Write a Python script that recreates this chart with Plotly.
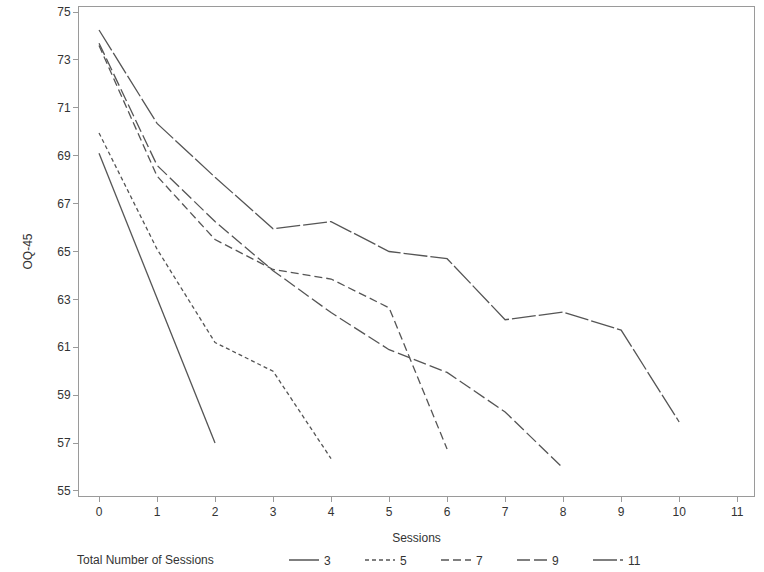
import plotly.graph_objects as go

sessions_3 = [0, 1, 2]
oq_3 = [69.1, 63.05, 57.0]

sessions_5 = [0, 1, 2, 3, 4]
oq_5 = [69.95, 65.1, 61.2, 60.0, 56.35]

sessions_7 = [0, 1, 2, 3, 4, 5, 6]
oq_7 = [73.6, 68.15, 65.5, 64.25, 63.85, 62.65, 56.75]

sessions_9 = [0, 1, 2, 3, 4, 5, 6, 7, 8]
oq_9 = [73.7, 68.6, 66.25, 64.2, 62.45, 60.9, 59.95, 58.3, 55.95]

sessions_11 = [0, 1, 2, 3, 4, 5, 6, 7, 8, 9, 10]
oq_11 = [74.25, 70.35, 68.1, 65.95, 66.25, 65.0, 64.7, 62.15, 62.47, 61.72, 57.88]

series_names = ["3", "5", "7", "9", "11"]
dashes = ["solid", "4px,3px", "8px,4px", "13px,4px", "24px,3px"]

x_ticks = list(range(0, 12))
y_ticks = list(range(55, 76, 2))

W, H = 764, 572

fig = go.Figure()
data = [(sessions_3, oq_3), (sessions_5, oq_5), (sessions_7, oq_7), (sessions_9, oq_9), (sessions_11, oq_11)]
for (xs, ys), name, d in zip(data, series_names, dashes):
    fig.add_trace(go.Scatter(x=xs, y=ys, mode="lines", name=name,
                             line=dict(color="#555555", width=1.3, dash=d)))

axis_common = dict(showline=True, linecolor="#9a9a9a", linewidth=1, mirror=True,
                   ticks="outside", ticklen=5, tickcolor="#9a9a9a",
                   showgrid=False, zeroline=False,
                   tickfont=dict(family="Liberation Sans, Arial", size=12, color="#333333"))

fig.update_xaxes(range=[-0.345, 11.29], tickvals=x_ticks,
                 title=dict(text="Sessions", font=dict(family="Liberation Sans, Arial", size=12, color="#333333"), standoff=22),
                 **axis_common)
fig.update_yaxes(range=[54.79, 75.21], tickvals=y_ticks,
                 title=dict(text="OQ-45", font=dict(family="Liberation Sans, Arial", size=12, color="#333333"), standoff=22),
                 **axis_common)

fig.update_layout(
    width=W, height=H,
    margin=dict(l=79, r=10, t=7, b=76, autoexpand=False),
    plot_bgcolor="white", paper_bgcolor="white",
    font=dict(family="Liberation Sans, Arial", size=12, color="#333333"),
    legend=dict(orientation="h", xref="container", yref="container",
                x=284 / W, xanchor="left", y=1 - 560 / H, yanchor="middle",
                entrywidth=31, entrywidthmode="pixels", font=dict(size=12),
                bgcolor="rgba(0,0,0,0)"),
    annotations=[dict(text="Total Number of Sessions", xref="paper", yref="paper",
                      x=(75 - 79) / 675, y=(496 - 560) / 489, xanchor="left", yanchor="middle",
                      showarrow=False, font=dict(size=12, color="#333333"))],
)

fig.write_html("out.html", config={"displayModeBar": False},
               post_script="document.body.style.margin='0';")
